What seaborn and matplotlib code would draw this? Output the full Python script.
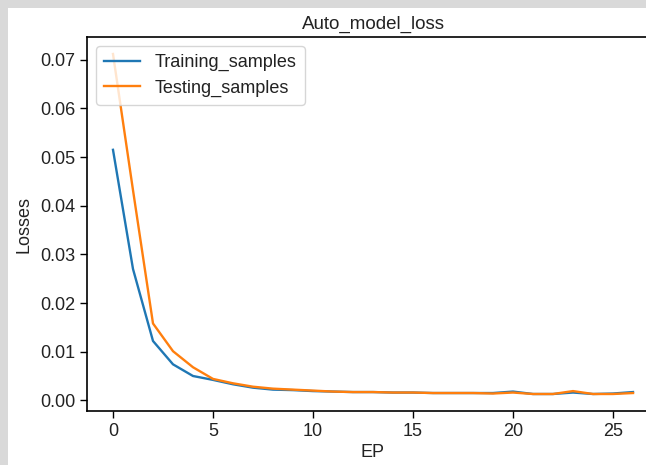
import seaborn as sns
import matplotlib.pyplot as plt
import matplotlib.patches as mpatches
import pandas as pd

# Data
epochs = list(range(27))
training_samples = [0.0515, 0.0270, 0.0122, 0.0074, 0.0050, 0.0042, 0.0033, 0.0026, 0.0022,
                    0.0021, 0.0019, 0.0018, 0.0017, 0.0017, 0.0016, 0.0016, 0.0015, 0.0015,
                    0.0015, 0.0015, 0.0018, 0.0013, 0.0013, 0.0016, 0.0013, 0.0014, 0.0017]
testing_samples = [0.0712, 0.0432, 0.0158, 0.0101, 0.0068, 0.0044, 0.0035, 0.0028, 0.0024,
                   0.0022, 0.0020, 0.0018, 0.0017, 0.0017, 0.0016, 0.0016, 0.0015, 0.0015,
                   0.0015, 0.0014, 0.0016, 0.0013, 0.0013, 0.0019, 0.0013, 0.0013, 0.0015]

df = pd.DataFrame({"EP": epochs, "train": training_samples, "test": testing_samples})

plt.rcParams['font.family'] = ['Liberation Sans', 'DejaVu Sans']
fs = 13

fig = plt.figure(figsize=(6.46, 4.65), dpi=100, facecolor="#d9d9d9")
# white page area (screenshot has a grey strip top/left)
fig.patches.append(mpatches.Rectangle((8 / 646, 0), 1, (465 - 8) / 465,
                                      transform=fig.transFigure, facecolor="white",
                                      edgecolor="none", zorder=-10))
ax = fig.add_axes([87 / 646, 54 / 465, 572 / 646, 374 / 465])

sns.lineplot(data=df, x="EP", y="train", ax=ax, color="#1f77b4", linewidth=1.7,
             label="Training_samples")
sns.lineplot(data=df, x="EP", y="test", ax=ax, color="#ff7f0e", linewidth=1.7,
             label="Testing_samples")

ax.set_title("Auto_model_loss", fontsize=fs + 0.5, pad=6, color="#222222")
ax.set_xlabel("EP", fontsize=fs, labelpad=3, color="#222222")
ax.set_ylabel("Losses", fontsize=fs, labelpad=5, color="#222222")
ax.set_xticks([0, 5, 10, 15, 20, 25])
ax.set_yticks([0.0, 0.01, 0.02, 0.03, 0.04, 0.05, 0.06, 0.07])
ax.set_yticklabels(["0.00", "0.01", "0.02", "0.03", "0.04", "0.05", "0.06", "0.07"])
ax.tick_params(labelsize=fs, length=5, width=1, labelcolor="#222222")
for s in ax.spines.values():
    s.set_linewidth(1.2)
ax.spines["right"].set_visible(False)
leg = ax.legend(loc="upper left", fontsize=fs, handlelength=2, borderpad=0.45,
                labelspacing=0.45)
for t in leg.get_texts():
    t.set_color("#222222")

fig.savefig("out.png", dpi=100, facecolor=fig.get_facecolor())
